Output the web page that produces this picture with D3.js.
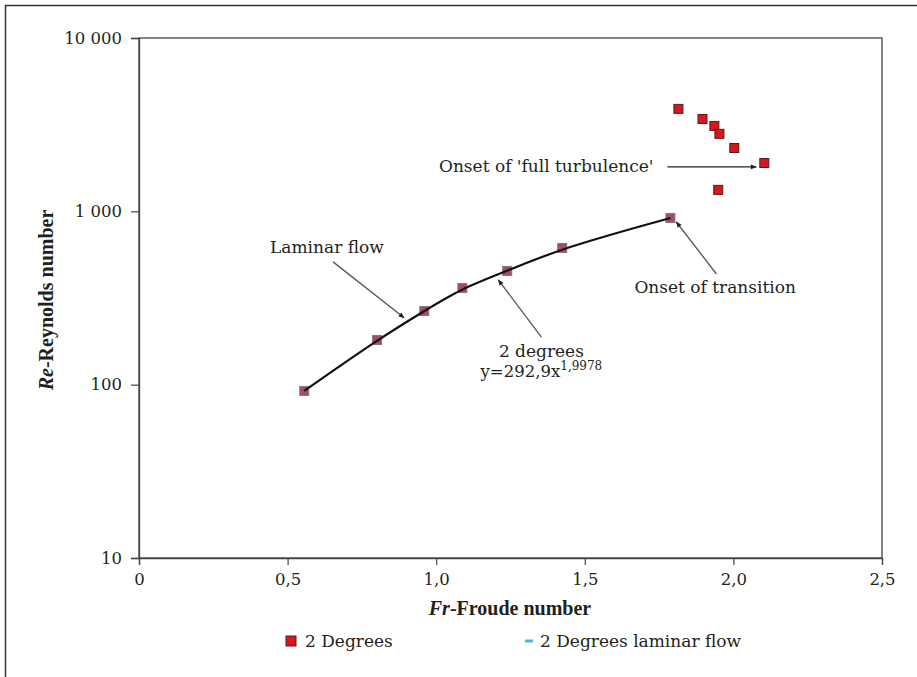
<!DOCTYPE html>
<html><head><meta charset="utf-8">
<script src="https://cdn.jsdelivr.net/npm/d3@7"></script>
<style>
body{margin:0;background:#fff;}
svg{display:block;}
text{font-family:"DejaVu Serif",serif;fill:#231f20;}
</style></head>
<body><svg id="chart" width="917" height="677"></svg>
<script>
// ---- data ----
const laminarFr = [0.556, 0.801, 0.960, 1.088, 1.239, 1.424, 1.788];
const laminarRe = [92, 181, 266, 361, 453, 615, 916];
const turbFr = [1.815, 1.896, 1.936, 1.953, 2.003, 2.104, 1.949];
const turbRe = [3900, 3410, 3110, 2800, 2320, 1900, 1330];
const xTicks = [0, 0.5, 1.0, 1.5, 2.0, 2.5];
const xTickLabels = ["0", "0,5", "1,0", "1,5", "2,0", "2,5"];
const yTicks = [10, 100, 1000, 10000];
const yTickLabels = ["10", "100", "1 000", "10 000"];
const legendLabels = ["2 Degrees", "2 Degrees laminar flow"];
// annotations in data units
const arrowFrom = [[0.653, 511], [1.354, 188], [1.943, 435], [1.778, 1803]];
const arrowTo   = [[0.892, 243], [1.209, 402], [1.808, 868], [2.077, 1803]];
const noteText = ["Laminar flow", "2 degrees", "Onset of transition", "Onset of 'full turbulence'"];
const notePos  = [[0.441, 575], [1.354, 144.5], [1.667, 338], [1.731, 1687]];
const noteAnchor = ["start", "middle", "start", "end"];
const fitBase = "y=292,9x", fitExp = "1,9978", fitPos = [1.354, 110.7];

const svg = d3.select("#chart");
const M = {left:139, right:882, top:38, bottom:558};
const x = d3.scaleLinear().domain([0, 2.5]).range([M.left, M.right]);
const y = d3.scaleLog().domain([10, 10000]).range([M.bottom, M.top]);

// outer frame (top & left)
svg.append("line").attr("x1",5).attr("x2",917).attr("y1",5.5).attr("y2",5.5).attr("stroke","#333").attr("stroke-width",1.5);
svg.append("line").attr("x1",5.5).attr("x2",5.5).attr("y1",5).attr("y2",677).attr("stroke","#333").attr("stroke-width",1.5);

// plot box
svg.append("rect").attr("x",M.left).attr("y",M.top).attr("width",M.right-M.left).attr("height",M.bottom-M.top)
  .attr("fill","none").attr("stroke","#444").attr("stroke-width",1.3);

// axes
const xAxis = d3.axisBottom(x).tickValues(xTicks).tickFormat((d,i)=>xTickLabels[i]).tickSize(7).tickPadding(8);
const gx = svg.append("g").attr("transform",`translate(0,${M.bottom})`).call(xAxis);
const yAxis = d3.axisLeft(y).tickValues(yTicks).tickFormat((d,i)=>yTickLabels[i]).tickSize(8).tickPadding(9);
const gy = svg.append("g").attr("transform",`translate(${M.left},0)`).call(yAxis);
[gx,gy].forEach(g=>{
  g.select(".domain").attr("stroke","#444").attr("stroke-width",1.3);
  g.selectAll(".tick line").attr("stroke","#444").attr("stroke-width",1.2);
  g.selectAll(".tick text").style("font-family","'DejaVu Serif',serif").style("font-size","16.5px").attr("fill","#231f20");
});

// axis titles
const xt = svg.append("text").attr("x",510).attr("y",615).attr("text-anchor","middle")
  .style("font-family","'Liberation Serif',serif").style("font-size","20px").style("font-weight","bold");
xt.append("tspan").style("font-style","italic").text("Fr");
xt.append("tspan").text("-Froude number");
const yt = svg.append("text").attr("transform","translate(53,300) rotate(-90)").attr("text-anchor","middle")
  .style("font-family","'Liberation Serif',serif").style("font-size","20px").style("font-weight","bold");
yt.append("tspan").style("font-style","italic").text("Re");
yt.append("tspan").text("-Reynolds number");

// fitted laminar curve through laminar points
const lam = laminarFr.map((f,i)=>({fr:f, re:laminarRe[i]}));
const curve = d3.line().x(d=>x(d.fr)).y(d=>y(d.re)).curve(d3.curveBasis);

// markers
const S = 9;
svg.append("g").selectAll("rect").data(lam).join("rect")
  .attr("x",d=>x(d.fr)-S/2).attr("y",d=>y(d.re)-S/2).attr("width",S).attr("height",S)
  .attr("fill","#9a3a4c").attr("stroke","#7a6670").attr("stroke-width",1).attr("opacity",0.9);
svg.append("path").datum(lam)
  .attr("d", curve)
  .attr("fill","none").attr("stroke","#111").attr("stroke-width",2.2);
const turb = turbFr.map((f,i)=>({fr:f, re:turbRe[i]}));
svg.append("g").selectAll("rect").data(turb).join("rect")
  .attr("x",d=>x(d.fr)-S/2).attr("y",d=>y(d.re)-S/2).attr("width",S).attr("height",S)
  .attr("fill","#d7161f").attr("stroke","#5a1a1a").attr("stroke-width",1);

// arrows
svg.append("defs").append("marker").attr("id","ah").attr("viewBox","0 0 10 10")
  .attr("refX",9).attr("refY",5).attr("markerWidth",9).attr("markerHeight",6).attr("orient","auto")
  .attr("markerUnits","userSpaceOnUse")
  .append("path").attr("d","M0,1 L10,5 L0,9 Z").attr("fill","#222");
arrowFrom.forEach((a,i)=>{
  const b = arrowTo[i];
  svg.append("line").attr("x1",x(a[0])).attr("y1",y(a[1])).attr("x2",x(b[0])).attr("y2",y(b[1]))
    .attr("stroke", i===3 ? "#222" : "#555").attr("stroke-width",1.3).attr("marker-end","url(#ah)");
});
noteText.forEach((t,i)=>{
  svg.append("text").attr("x",x(notePos[i][0])).attr("y",y(notePos[i][1]))
    .attr("text-anchor",noteAnchor[i]).style("font-size","17px").text(t);
});
const ft = svg.append("text").attr("x",x(fitPos[0])).attr("y",y(fitPos[1])).attr("text-anchor","middle").style("font-size","16.5px");
ft.append("tspan").text(fitBase);
ft.append("tspan").attr("dy",-7).style("font-size","12px").text(fitExp);

// legend
svg.append("rect").attr("x",286).attr("y",636).attr("width",10).attr("height",10)
  .attr("fill","#d7161f").attr("stroke","#5a1a1a").attr("stroke-width",1);
svg.append("text").attr("x",305).attr("y",647).style("font-size","17px").text(legendLabels[0]);
svg.append("line").attr("x1",525).attr("x2",533).attr("y1",641).attr("y2",641).attr("stroke","#4cb6d6").attr("stroke-width",3);
svg.append("text").attr("x",540).attr("y",647).style("font-size","17px").text(legendLabels[1]);
</script></body></html>
